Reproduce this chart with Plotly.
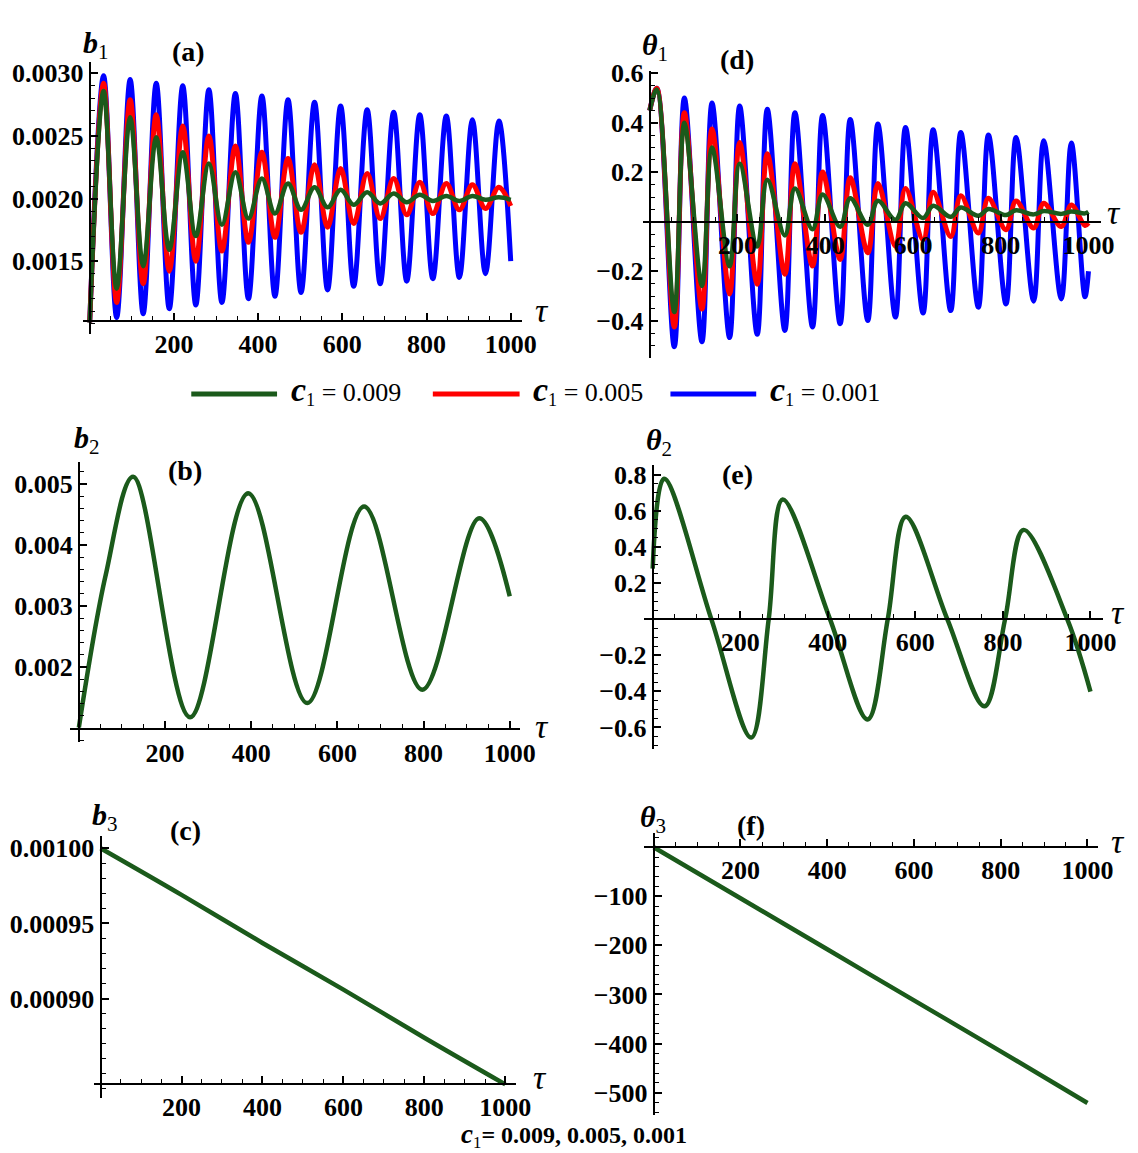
import plotly.graph_objects as go

W, H = 1138, 1153
SERIF = "Liberation Serif"
GREEN = "#1b5a1b"
RED = "#ff0000"
BLUE = "#0000ff"

# ---------------- data ----------------
# panel (a) b1 : extrema of the damped oscillations
TAU_A = [0, 33, 64, 96, 127, 158, 189, 221, 252, 283, 314, 346, 377, 409, 440, 471,
         502, 534, 565, 596, 627, 659, 690, 722, 753, 784, 815, 847, 878, 909, 940, 972, 1000]
B1_C001 = [0.00101, 0.00298, 0.00105, 0.00295, 0.00108, 0.00292, 0.00112, 0.00290, 0.00115,
           0.00287, 0.00117, 0.00284, 0.00120, 0.00282, 0.00122, 0.00279, 0.00125, 0.00277,
           0.00127, 0.00274, 0.00130, 0.00271, 0.00132, 0.00269, 0.00134, 0.00267, 0.00136,
           0.00266, 0.00137, 0.00263, 0.00140, 0.00262, 0.00150]
B1_C005 = [0.00101, 0.00292, 0.00117, 0.00279, 0.00132, 0.00267, 0.00142, 0.00258, 0.00150,
           0.00250, 0.00158, 0.00242, 0.00165, 0.00237, 0.00169, 0.00232, 0.00173, 0.00227,
           0.00177, 0.00224, 0.00180, 0.00220, 0.00184, 0.00216, 0.00187, 0.00213, 0.00188,
           0.00212, 0.00191, 0.00211, 0.00192, 0.00209, 0.00194]
B1_C009 = [0.00101, 0.00286, 0.00128, 0.00265, 0.00146, 0.00249, 0.00159, 0.00237, 0.00170,
           0.00228, 0.00179, 0.00221, 0.00184, 0.00216, 0.00188, 0.00212, 0.00191, 0.00209,
           0.00193, 0.00207, 0.00195, 0.00205, 0.00196, 0.00204, 0.00197, 0.00203, 0.00198,
           0.00202, 0.00198, 0.00202, 0.00199, 0.00201, 0.00199]

# panel (d) theta1
TAU_D = [0, 16, 56, 79, 119, 142, 182, 205, 245, 268, 308, 331, 371, 394, 434, 457, 497,
         520, 560, 583, 623, 646, 686, 709, 749, 772, 812, 835, 875, 898, 938, 961, 992, 1000]
TH1_C001 = [0.45, 0.54, -0.505, 0.50, -0.485, 0.48, -0.468, 0.468, -0.455, 0.455, -0.439,
            0.441, -0.425, 0.43, -0.412, 0.414, -0.399, 0.395, -0.385, 0.381, -0.369, 0.372,
            -0.359, 0.361, -0.345, 0.351, -0.332, 0.341, -0.321, 0.328, -0.312, 0.319, -0.303, -0.2]
TH1_C005 = [0.45, 0.54, -0.425, 0.441, -0.352, 0.375, -0.292, 0.321, -0.252, 0.275, -0.212,
            0.235, -0.179, 0.201, -0.152, 0.178, -0.125, 0.155, -0.099, 0.135, -0.072, 0.119,
            -0.059, 0.105, -0.045, 0.095, -0.032, 0.084, -0.025, 0.075, -0.019, 0.068, -0.015, -0.005]
TH1_C009 = [0.45, 0.535, -0.365, 0.40, -0.26, 0.30, -0.18, 0.235, -0.10, 0.17, -0.055, 0.135,
            -0.03, 0.11, -0.02, 0.095, -0.012, 0.085, 0.008, 0.075, 0.015, 0.065, 0.02, 0.058,
            0.024, 0.052, 0.027, 0.047, 0.03, 0.044, 0.032, 0.042, 0.034, 0.04]

# panel (b) b2
TAU_B = [0, 62, 126, 258, 393, 530, 662, 797, 929, 1000]
B2 = [0.00101, 0.00350, 0.00512, 0.00118, 0.00485, 0.00141, 0.00463, 0.00163, 0.00444, 0.00316]

# panel (e) theta2
TAU_E = [0, 26, 134, 225, 265, 297, 405, 491, 537, 578, 673, 758, 805, 847, 947, 1000]
TH2 = [0.28, 0.777, 0.0, -0.656, 0.0, 0.662, 0.0, -0.556, 0.0, 0.567, 0.0, -0.483, 0.0,
       0.494, 0.0, -0.401]

# panel (c) b3 and panel (f) theta3
TAU_CF = [0, 200, 400, 600, 800, 1000]
B3 = [0.00100, 0.000969, 0.000937, 0.000906, 0.000874, 0.000843]
TH3 = [0, -104, -208, -312, -416, -521]

X_TICKS = [200, 400, 600, 800, 1000]
LEGEND_LABELS = ["0.009", "0.005", "0.001"]

# ---------------- layout helpers ----------------
def fx(px):
    return px / W


def fy(py):
    return 1 - py / H


TICKFONT = dict(family=SERIF, size=26, color="black", weight="bold")

fig = go.Figure()


def panel(i, xp0, xp1000, xl, xr, va, pa, vb, pb, yt, yb, xaxis_py,
          yvals, ytext, yminor):
    sx = (xp1000 - xp0) / 1000.0
    xr0 = (xl - xp0) / sx
    xr1 = (xr - xp0) / sx
    sy = (pb - pa) / (vb - va)
    yr0 = va + (yb - pa) / sy
    yr1 = va + (yt - pa) / sy
    xs = "xaxis" if i == 1 else f"xaxis{i}"
    ys = "yaxis" if i == 1 else f"yaxis{i}"
    common = dict(showline=True, linecolor="black", linewidth=2, ticks="inside",
                  ticklen=7, tickwidth=1.5, tickcolor="black", showgrid=False,
                  zeroline=False, tickfont=TICKFONT, anchor="free")
    fig.update_layout({
        xs: dict(domain=[fx(xl), fx(xr)], range=[xr0, xr1], position=fy(xaxis_py),
                 side="bottom", tickmode="array", tickvals=X_TICKS,
                 ticktext=[str(v) for v in X_TICKS],
                 minor=dict(ticks="inside", ticklen=4, tickwidth=1, tickcolor="black",
                            dtick=50, tick0=0),
                 **common),
        ys: dict(domain=[fy(yb), fy(yt)], range=[yr0, yr1], position=fx(xp0),
                 side="left", tickmode="array", tickvals=yvals, ticktext=ytext,
                 minor=dict(ticks="inside", ticklen=4, tickwidth=1, tickcolor="black",
                            dtick=yminor, tick0=0),
                 **common),
    })


def line(i, x, y, color, width, name):
    fig.add_trace(go.Scatter(x=x, y=y, mode="lines", name=name, showlegend=False,
                             line=dict(color=color, width=width, shape="spline",
                                       smoothing=1.0),
                             xaxis="x" if i == 1 else f"x{i}",
                             yaxis="y" if i == 1 else f"y{i}"))


# (a)
panel(1, 91, 518, 84, 529, 0.0030, 62, 0.0020, 188.5, 51, 325, 312,
      [0.0015, 0.0020, 0.0025, 0.0030], ["0.0015", "0.0020", "0.0025", "0.0030"], 0.0001)
line(1, TAU_A, B1_C001, BLUE, 5, "c1 = 0.001")
line(1, TAU_A, B1_C005, RED, 5, "c1 = 0.005")
line(1, TAU_A, B1_C009, GREEN, 4.5, "c1 = 0.009")

# (d)
panel(2, 659, 1104, 652, 1117, 0.2, 162, 0.0, 212, 60, 350, 212,
      [-0.4, -0.2, 0.2, 0.4, 0.6], ["\u22120.4", "\u22120.2", "0.2", "0.4", "0.6"], 0.05)
line(2, TAU_D, TH1_C001, BLUE, 5, "c1 = 0.001")
line(2, TAU_D, TH1_C005, RED, 5, "c1 = 0.005")
line(2, TAU_D, TH1_C009, GREEN, 4.5, "c1 = 0.009")

# (b)
panel(3, 80, 517, 71, 527, 0.005, 477, 0.002, 662, 455, 738, 725,
      [0.002, 0.003, 0.004, 0.005], ["0.002", "0.003", "0.004", "0.005"], 0.0002)
line(3, TAU_B, B2, GREEN, 4.5, "b2")

# (e)
panel(4, 662, 1106, 653, 1119, 0.8, 467.5, 0.0, 613.5, 458, 745, 613.5,
      [-0.6, -0.4, -0.2, 0.2, 0.4, 0.6, 0.8],
      ["\u22120.6", "\u22120.4", "\u22120.2", "0.2", "0.4", "0.6", "0.8"], 0.05)
line(4, TAU_E, TH2, GREEN, 4.5, "theta2")

# (c)
panel(5, 102, 512.5, 95, 523, 0.0010, 845, 0.0009, 997, 833, 1097, 1083,
      [0.0009, 0.00095, 0.001], ["0.00090", "0.00095", "0.00100"], 0.00001)
line(5, TAU_CF, B3, GREEN, 4.5, "b3")

# (f)
panel(6, 663, 1103, 653, 1114, 0.0, 844, -500.0, 1092, 830, 1115, 844,
      [-500, -400, -300, -200, -100],
      ["\u2212500", "\u2212400", "\u2212300", "\u2212200", "\u2212100"], 20)
line(6, TAU_CF, TH3, GREEN, 4.5, "theta3")

# ---------------- text ----------------
ann = []


def text(px, py, s, size, xanchor="center", yanchor="middle", pad=1):
    ann.append(dict(x=fx(px), y=fy(py), xref="paper", yref="paper", text=s,
                    showarrow=False, xanchor=xanchor, yanchor=yanchor, borderpad=pad,
                    font=dict(family=SERIF, size=size, color="black")))


for (px, py, s) in [(191, 40, "(a)"), (748, 48, "(d)"), (188, 463, "(b)"),
                    (748, 467, "(e)"), (188, 827, "(c)"), (762, 822, "(f)")]:
    text(px, py, f"<b>{s}</b>", 28)

for (px, py, sym, sub) in [(97, 33, "b", "1"), (664, 35, "\u03b8", "1"),
                           (88, 433, "b", "2"), (668, 435, "\u03b8", "2"),
                           (106, 813, "b", "3"), (662, 815, "\u03b8", "3")]:
    text(px, py, f"<b><i>{sym}</i></b><sub>{sub}</sub>", 30)

for (px, py) in [(550, 302), (1130, 203), (550, 722), (1134, 607), (548, 1077), (1134, 838)]:
    text(px, py, "<i>\u03c4</i>", 34)

# legend
shapes = []
for (x0, x1, col, lab) in [(194, 281, GREEN, LEGEND_LABELS[0]),
                           (439, 527, RED, LEGEND_LABELS[1]),
                           (680, 767, BLUE, LEGEND_LABELS[2])]:
    shapes.append(dict(type="line", xref="paper", yref="paper", x0=fx(x0), x1=fx(x1),
                       y0=fy(386), y1=fy(386), line=dict(color=col, width=5)))
    text(x1 + 12, 382,
         f"<span style='font-size:34px'><b><i>c</i></b></span><sub>1</sub> = {lab}", 26,
         xanchor="left")

text(582, 1153,
     "<span style='font-size:27px'><b><i>c</i></b></span><sub>1</sub><b>= "
     + ", ".join(LEGEND_LABELS) + "</b>", 24, yanchor="bottom", pad=0)

fig.update_layout(width=W, height=H, margin=dict(l=0, r=0, t=0, b=0),
                  paper_bgcolor="white", plot_bgcolor="white",
                  annotations=ann, shapes=shapes, showlegend=False)

fig.write_html("out.html")
